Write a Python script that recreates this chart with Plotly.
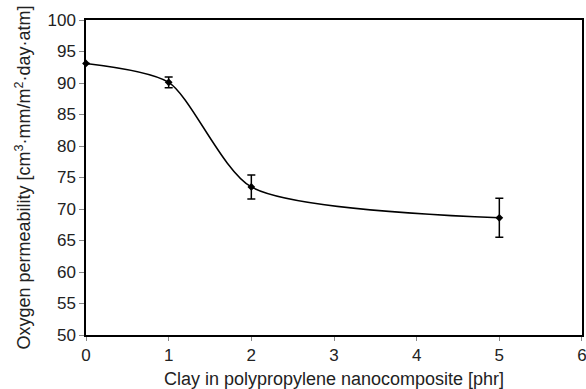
import plotly.graph_objects as go

clay_phr = [0, 1, 2, 5]
permeability = [93.1, 90.1, 73.5, 68.6]
error = [0, 0.85, 1.9, 3.1]

x_ticks = [0, 1, 2, 3, 4, 5, 6]
y_ticks = [50, 55, 60, 65, 70, 75, 80, 85, 90, 95, 100]

fig = go.Figure()
fig.add_trace(go.Scatter(
    x=clay_phr, y=permeability,
    mode="lines+markers",
    line=dict(color="black", width=1.5, shape="spline", smoothing=0.7),
    marker=dict(color="black", size=6, symbol="diamond"),
    error_y=dict(type="data", array=error, visible=True, color="black",
                 thickness=1.5, width=4),
    showlegend=False,
    cliponaxis=False,
))

font_family = "Liberation Sans, Arial, sans-serif"
fig.update_layout(
    width=586, height=389,
    margin=dict(l=86, r=4, t=20, b=54, autoexpand=False),
    paper_bgcolor="white", plot_bgcolor="white",
    font=dict(family=font_family, color="#222", size=17),
)
fig.update_xaxes(
    range=[0, 6.0001], tickvals=x_ticks, ticktext=[str(v) for v in x_ticks],
    showgrid=False, zeroline=False, automargin=False,
    showline=True, linecolor="black", linewidth=1.5, mirror=True,
    ticks="outside", ticklen=4, tickcolor="#888", tickwidth=1,
    tickfont=dict(size=17), ticklabeloverflow="allow",
    title=dict(text="Clay in polypropylene nanocomposite [phr]",
               font=dict(size=18), standoff=8),
)
fig.update_yaxes(
    range=[50, 100], tickvals=y_ticks, ticktext=[str(v) for v in y_ticks],
    showgrid=False, zeroline=False, automargin=False,
    showline=True, linecolor="black", linewidth=1.5, mirror=True,
    ticks="outside", ticklen=5, tickcolor="#888", tickwidth=1,
    tickfont=dict(size=17),
    title=dict(text="Oxygen permeability [cm<sup>3</sup>·mm/m<sup>2</sup>·day·atm]",
               font=dict(size=18), standoff=12),
)

fig.write_html(
    "out.html",
    config={"displayModeBar": False},
    post_script="document.body.style.margin='0';document.body.style.overflow='hidden';",
)
